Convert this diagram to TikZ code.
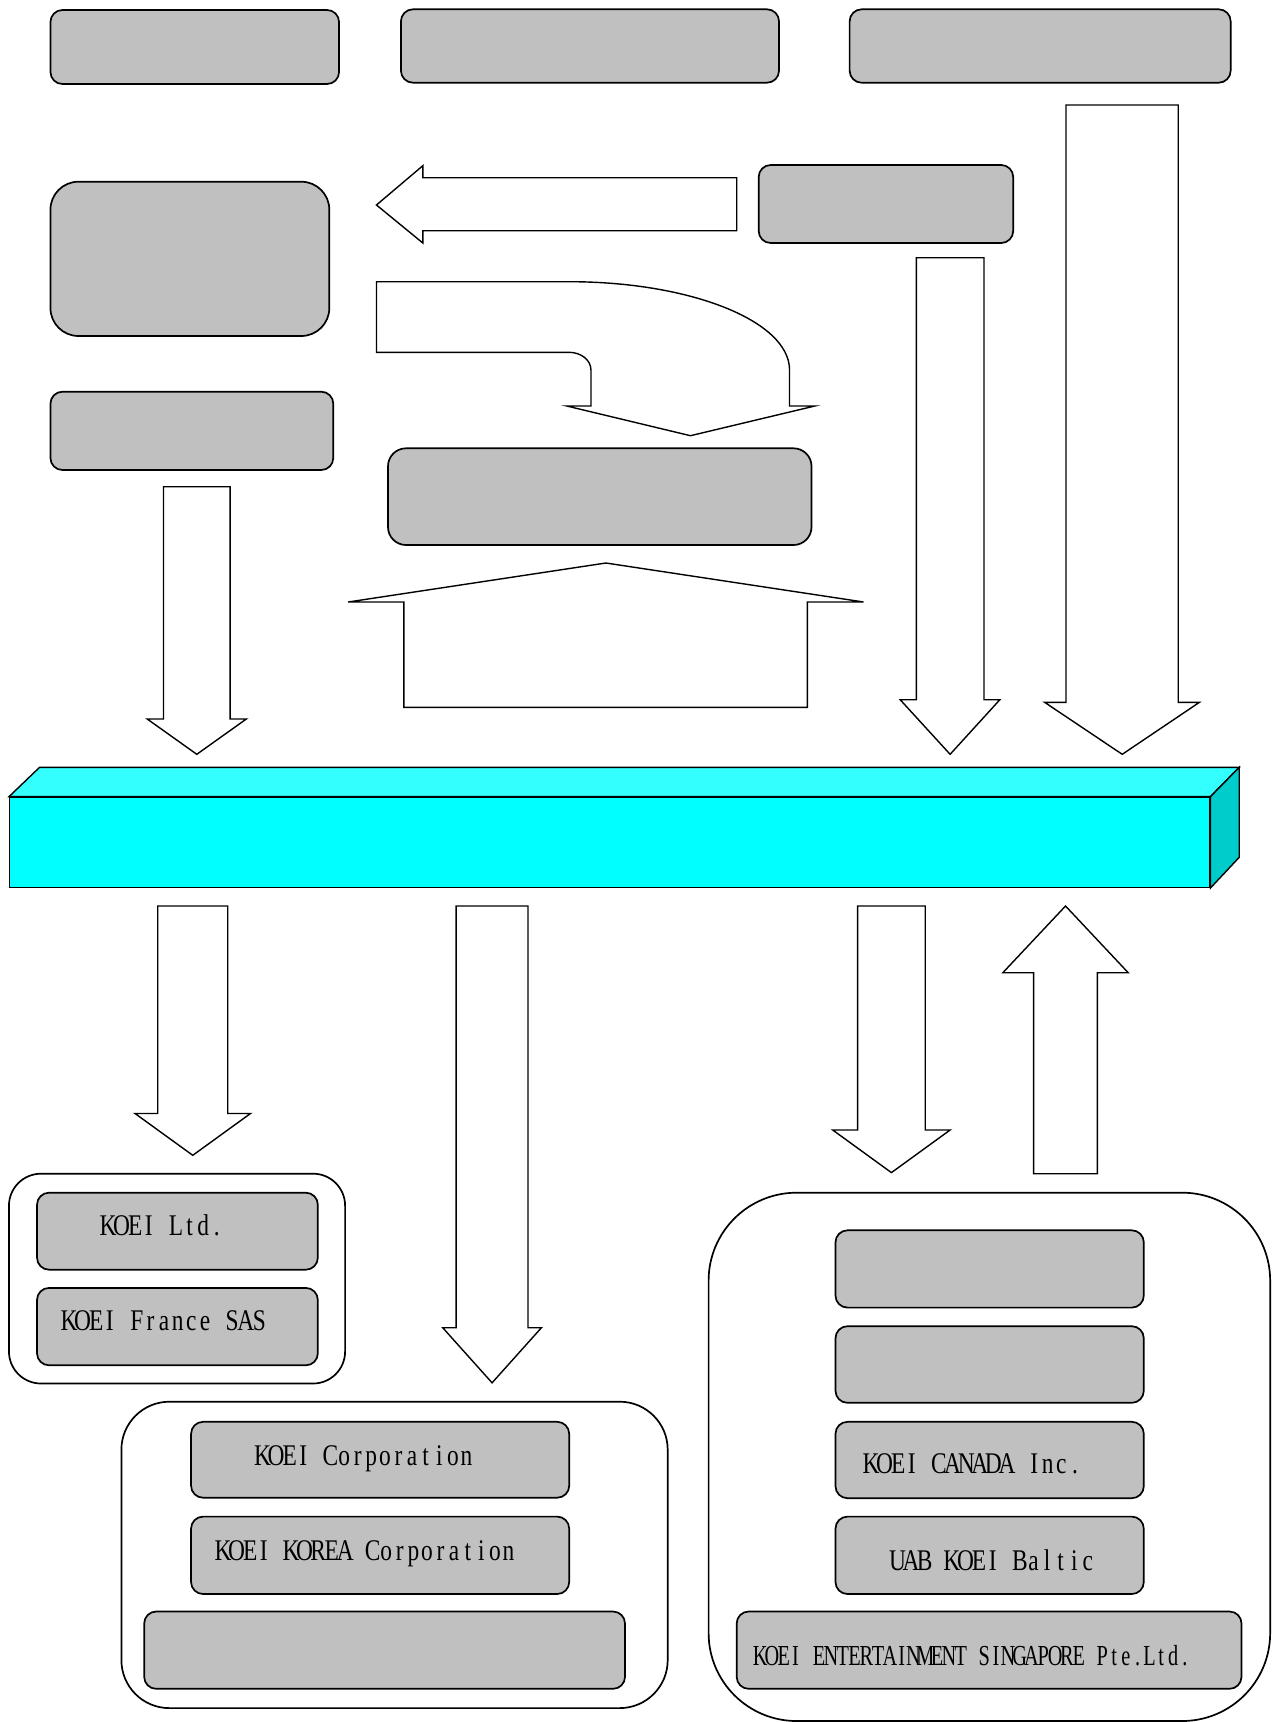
\documentclass[tikz,border=0pt]{standalone}
\usepackage{fontspec}
\newfontfamily\labfont[FakeStretch=0.78]{Liberation Serif}
\newfontfamily\labfontsm[FakeStretch=0.7]{Liberation Serif}
\ExplSyntaxOn
\NewDocumentCommand\fixedtext{m m}{\str_map_inline:nn {#2}{\makebox[#1][c]{##1}}}
\ExplSyntaxOff
\definecolor{boxgray}{RGB}{192,192,192}
\definecolor{cyanfront}{RGB}{0,255,255}
\definecolor{cyantop}{RGB}{51,255,255}
\definecolor{cyanside}{RGB}{0,204,204}
\begin{document}
\begin{tikzpicture}[x=1pt,y=-1pt,
  gbox/.style={draw=black, fill=boxgray, line width=1.7pt, rounded corners=12pt, inner sep=0pt, rectangle},
  cont/.style={draw=black, fill=white, line width=1.7pt, inner sep=0pt, rectangle},
  blk/.style={draw=black, fill=white, line width=1.4pt, line join=miter},
  lab/.style={anchor=base west, inner sep=0pt, font=\labfont\fontsize{30pt}{36pt}\selectfont},
  labsm/.style={anchor=base west, inner sep=0pt, font=\labfontsm\fontsize{29pt}{35pt}\selectfont}]
\useasboundingbox (0,0) rectangle (1275,1722);
\fill[white] (0,0) rectangle (1275,1722);

% top boxes
\node[gbox, minimum width=288.6pt, minimum height=74pt] (b1) at (194.75,47) {};
\node[gbox, minimum width=378.06pt, minimum height=73.4pt] (b2) at (589.97,46) {};
\node[gbox, minimum width=381.04pt, minimum height=73.4pt] (b3) at (1040.15,46) {};
\node[gbox, minimum width=254.5pt, minimum height=78pt] (b4) at (885.95,204) {};
\node[gbox, rounded corners=28pt, minimum width=278.87pt, minimum height=154.3pt] (b5) at (189.88,258.85) {};
\node[gbox, minimum width=282.84pt, minimum height=78.3pt] (b6) at (191.86,430.85) {};
\node[gbox, rounded corners=18pt, minimum width=423.52pt, minimum height=96.7pt] (b7) at (599.76,496.65) {};

% left arrow
\draw[blk] (376.46,205) -- (422.82,165.7) -- (422.82,177.7) -- (736.71,177.7) -- (736.71,230.7) -- (422.82,230.7) -- (422.82,243) -- cycle;
% curved arrow
\draw[blk] (376.46,281.7) -- (569.07,281.7) .. controls (690.84,281.7) and (789.54,321.2) .. (789.54,370) -- (789.54,406) -- (814.81,406) -- (690.45,435.7) -- (566.78,406) -- (590.96,406) -- (590.96,370) .. controls (590.96,360) and (581,352.3) .. (569.07,352.3) -- (376.46,352.3) -- cycle;
% left down arrow
\draw[blk] (163.46,486.7) -- (230.12,486.7) -- (230.12,719) -- (246.33,719) -- (196.79,754.3) -- (147.24,719) -- (163.46,719) -- cycle;
% house up arrow
\draw[blk] (605.88,563) -- (863.56,602) -- (807.44,602) -- (807.44,707.3) -- (403.92,707.3) -- (403.92,602) -- (348.21,602) -- cycle;
% right down arrows
\draw[blk] (916.29,257.7) -- (983.94,257.7) -- (983.94,699.7) -- (999.85,699.7) -- (950.11,754.3) -- (900.17,699.7) -- (916.29,699.7) -- cycle;
\draw[blk] (1066.01,105) -- (1178.24,105) -- (1178.24,702.3) -- (1199.43,702.3) -- (1122.23,754.3) -- (1044.62,702.3) -- (1066.01,702.3) -- cycle;

% cyan bar
\node[draw=black, fill=cyanfront, line width=1.4pt, inner sep=0pt, minimum width=1200.02pt, minimum height=90pt] (bar) at (609.76,842.3) {};
\draw[fill=cyantop, line width=1.4pt, line join=miter] (bar.north west) -- (39.6,767.3) -- (1239.22,767.3) -- (bar.north east) -- cycle;
\draw[fill=cyanside, line width=1.4pt, line join=miter] (bar.north east) -- (1239.22,767.3) -- (1239.22,857.3) -- (bar.south east) -- cycle;

% bottom arrows
\draw[blk] (157.79,906) -- (227.73,906) -- (227.73,1113.5) -- (250.46,1113.5) -- (192.76,1155.3) -- (135.05,1113.5) -- (157.79,1113.5) -- cycle;
\draw[blk] (456.15,906) -- (527.98,906) -- (527.98,1327.7) -- (541.41,1327.7) -- (492.07,1382.8) -- (442.72,1327.7) -- (456.15,1327.7) -- cycle;
\draw[blk] (857.59,906) -- (925.24,906) -- (925.24,1130) -- (950.11,1130) -- (891.41,1172.6) -- (832.71,1130) -- (857.59,1130) -- cycle;
\draw[blk] (1065.52,906) -- (1128.19,972.7) -- (1097.35,972.7) -- (1097.35,1173.7) -- (1033.68,1173.7) -- (1033.68,972.7) -- (1002.84,972.7) -- cycle;

% left container
\node[cont, rounded corners=32pt, minimum width=336.14pt, minimum height=209.8pt] (cl) at (177.03,1278.6) {};
\node[gbox, minimum width=280.81pt, minimum height=77pt] (kl) at (177.43,1231.19) {};
\node[gbox, minimum width=280.81pt, minimum height=77.4pt] (kf) at (177.43,1326.6) {};
\node[lab] (tkl) at (101,1235.3) {\fixedtext{13.6pt}{KOEI Ltd.}};
\node[lab] (tkf) at (62,1330.3) {\fixedtext{13.6pt}{KOEI France SAS}};

% middle container
\node[cont, rounded corners=48pt, minimum width=546.3pt, minimum height=306.4pt] (cm) at (394.55,1554.9) {};
\node[gbox, minimum width=378.13pt, minimum height=75.9pt] (kc) at (380.13,1459.75) {};
\node[gbox, minimum width=378.13pt, minimum height=77.4pt] (kk) at (380.13,1555.3) {};
\node[gbox, minimum width=480.83pt, minimum height=77.3pt] (kw) at (384.6,1650.15) {};
\node[lab] (tkc) at (255.5,1465) {\fixedtext{13.6pt}{KOEI Corporation}};
\node[lab] (tkk) at (216,1560) {\fixedtext{13.6pt}{KOEI KOREA Corporation}};

% right container
\node[cont, rounded corners=88pt, minimum width=561.56pt, minimum height=528.32pt] (cr) at (989.39,1456.84) {};
\node[gbox, minimum width=308.3pt, minimum height=77.3pt] (r1) at (989.64,1268.95) {};
\node[gbox, minimum width=308.3pt, minimum height=76.6pt] (r2) at (989.64,1364.5) {};
\node[gbox, minimum width=308.3pt, minimum height=76.4pt] (r3) at (989.64,1460.0) {};
\node[gbox, minimum width=308.3pt, minimum height=77.4pt] (r4) at (989.64,1555.3) {};
\node[gbox, minimum width=504.84pt, minimum height=77.3pt] (r5) at (989.09,1650.15) {};
\node[lab] (tr3) at (864,1473.3) {\fixedtext{13.6pt}{KOEI CANADA Inc.}};
\node[lab] (tr4) at (890.5,1570) {\fixedtext{13.6pt}{UAB KOEI Baltic}};
\node[labsm] (tr5) at (754,1665) {\fixedtext{11.8pt}{KOEI ENTERTAINMENT SINGAPORE Pte.Ltd.}};
\end{tikzpicture}
\end{document}
